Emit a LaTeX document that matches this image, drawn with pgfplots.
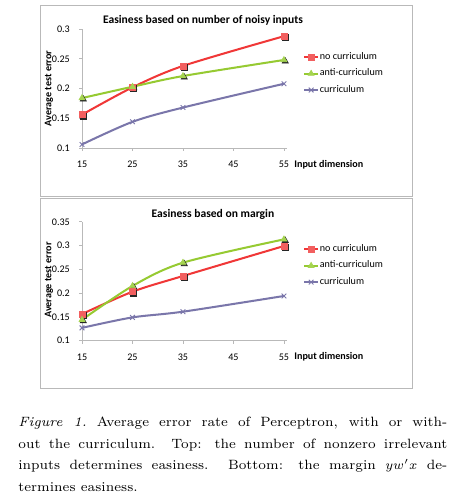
\documentclass[border=0pt]{standalone}
\usepackage{pgfplots}
\pgfplotsset{compat=1.18}
\usepackage{fontspec}
\newfontfamily\carl{Carlito}
\definecolor{cred}{RGB}{240,55,55}
\definecolor{credf}{RGB}{242,95,95}
\definecolor{cgreen}{RGB}{150,202,50}
\definecolor{cgreenf}{RGB}{165,212,80}
\definecolor{cpurple}{RGB}{122,118,170}
\definecolor{axgray}{RGB}{185,185,185}

\pgfplotstableread{
x   nocur  anti   cur
15  0.156  0.184  0.106
25  0.202  0.203  0.144
35  0.238  0.221  0.168
55  0.288  0.248  0.208
}\topdata
\pgfplotstableread{
x   nocur  anti   cur
15  0.156  0.144  0.127
25  0.203  0.215  0.149
35  0.236  0.264  0.161
55  0.299  0.313  0.194
}\botdata

\pgfplotsset{
  curr/.style={
    scale only axis, width=111.5pt, height=64.7pt,
    xmin=15, xmax=55.6,
    xtick={15,25,35,45,55},
    axis x line*=bottom, axis y line*=left,
    axis line style={axgray,-},
    tick style={axgray, thin},
    tick align=outside,
    major tick length=1.6pt,
    x tick label style={font=\carl\fontsize{5.5}{6}\selectfont, yshift=-2pt},
    y tick label style={font=\carl\fontsize{5.5}{6}\selectfont, xshift=-1.5pt},
    /pgf/number format/assume math mode=true,
    yticklabel style={/pgf/number format/fixed},
    clip=false,
    legend style={draw=none, fill=none, anchor=north west,
      font=\carl\fontsize{5.5}{6}\selectfont, inner sep=0pt,
      row sep=2.6pt, nodes={inner sep=0.5pt}},
    legend cell align=left,
    legend image code/.code={\draw[mark repeat=2,mark phase=2,#1] plot coordinates {(0pt,0pt) (3.7pt,0pt) (7.4pt,0pt)};},
  },
  redline/.style={cred, line width=1.1pt, smooth, tension=0.5, mark=square*, mark size=1.6pt, mark options={fill=credf, draw=credf, line width=0.3pt}},
  greenline/.style={cgreen, line width=1.1pt, smooth, tension=0.5, mark=triangle*, mark size=1.9pt, mark options={fill=cgreenf, draw=cgreenf, line width=0.3pt}},
  purpline/.style={cpurple, line width=1.1pt, smooth, tension=0.5, mark=x, mark size=1.8pt, mark options={draw=cpurple, line width=0.5pt}},
  shadowsq/.style={only marks, mark=square*, mark size=1.6pt, mark options={fill=black!85, draw=black!85, xshift=0.7pt, yshift=-0.7pt}},
  shadowtr/.style={only marks, mark=triangle*, mark size=1.9pt, mark options={fill=black!85, draw=black!85, xshift=0.7pt, yshift=-0.7pt}},
}

\begin{document}
\begin{tikzpicture}[x=0.544pt, y=0.544pt]
\path[use as bounding box] (0,0) rectangle (456,498);
% boxes
\draw[gray!55, line width=0.5pt] (40,492.5) rectangle (412,302);
\draw[gray!55, line width=0.5pt] (40,300) rectangle (412,110);

% ---------- top chart ----------
\begin{axis}[curr, at={(44.61pt,190.4pt)}, anchor=south west,
  ymin=0.1, ymax=0.3, ytick={0.1,0.15,0.2,0.25,0.3},
  legend style={at={(1.078,0.815)}}]
\addplot[shadowsq, forget plot] table[x=x, y=nocur] {\topdata};
\addplot[shadowtr, forget plot] table[x=x, y=anti] {\topdata};
\addplot[redline] table[x=x, y=nocur] {\topdata};
\addplot[greenline] table[x=x, y=anti] {\topdata};
\addplot[purpline] table[x=x, y=cur] {\topdata};
\legend{no curriculum, anti-curriculum, curriculum}
\end{axis}
\node[font=\carl\bfseries\fontsize{6.3}{7}\selectfont] at (203,478) {Easiness based on number of noisy inputs};
\node[font=\carl\bfseries\fontsize{5.5}{6}\selectfont, anchor=west, inner sep=0] at (294,333.5) {Input dimension};
\node[font=\carl\bfseries\fontsize{5.5}{6}\selectfont, rotate=90] at (49,409.5) {Average test error};

% ---------- bottom chart ----------
\begin{axis}[curr, at={(44.61pt,85.57pt)}, anchor=south west,
  ymin=0.1, ymax=0.35, ytick={0.1,0.15,0.2,0.25,0.3,0.35},
  legend style={at={(1.078,0.82)}}]
\addplot[shadowsq, forget plot] table[x=x, y=nocur] {\botdata};
\addplot[shadowtr, forget plot] table[x=x, y=anti] {\botdata};
\addplot[redline] table[x=x, y=nocur] {\botdata};
\addplot[greenline] table[x=x, y=anti] {\botdata};
\addplot[purpline] table[x=x, y=cur] {\botdata};
\legend{no curriculum, anti-curriculum, curriculum}
\end{axis}
\node[font=\carl\bfseries\fontsize{6.3}{7}\selectfont] at (213,283.5) {Easiness based on margin};
\node[font=\carl\bfseries\fontsize{5.5}{6}\selectfont, anchor=west, inner sep=0] at (294,141) {Input dimension};
\node[font=\carl\bfseries\fontsize{5.5}{6}\selectfont, rotate=90] at (49,218) {Average test error};

% ---------- caption ----------
\node[anchor=north west, inner sep=0, text width=233.4pt, align=justify,
  font=\fontsize{7.33}{11.7}\selectfont] at (18,81)
  {\textit{Figure 1.}\ Average error rate of Perceptron, with or with-\linebreak out the curriculum. Top: the number of nonzero irrelevant inputs determines easiness. Bottom: the margin $yw'x$ de-\linebreak termines easiness.};
\end{tikzpicture}
\end{document}
